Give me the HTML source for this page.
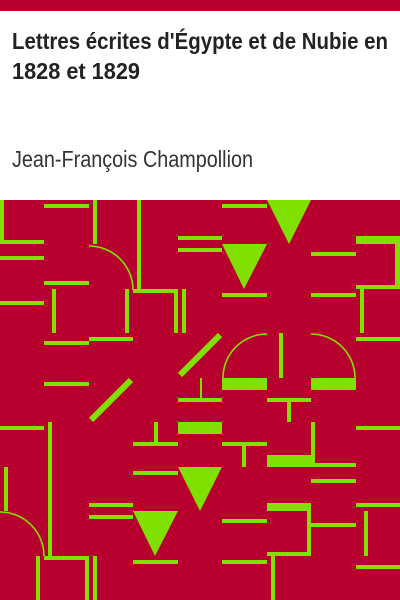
<!DOCTYPE html>
<html><head><meta charset="utf-8"><style>
html,body{margin:0;padding:0;background:#fff;}
svg{display:block;}
</style></head><body>
<svg width="400" height="600" viewBox="0 0 400 600">
<rect x="0" y="0" width="400" height="11" fill="#b8002e"/>
<text x="12" y="49" font-family="Liberation Sans, sans-serif" font-weight="bold" font-size="23" fill="#222" textLength="376" lengthAdjust="spacingAndGlyphs">Lettres écrites d'Égypte et de Nubie en</text>
<text x="12" y="79" font-family="Liberation Sans, sans-serif" font-weight="bold" font-size="23" fill="#222" textLength="128" lengthAdjust="spacingAndGlyphs">1828 et 1829</text>
<text x="12" y="167" font-family="Liberation Sans, sans-serif" font-size="23" fill="#333" textLength="241" lengthAdjust="spacingAndGlyphs">Jean-François Champollion</text>
<g>
<rect x="0" y="200" width="400" height="400" fill="#b8002e"/>
<g fill="#80e000">
<rect x="0" y="200" width="4" height="44"/><rect x="0" y="240" width="44" height="4"/>
<rect x="0" y="256" width="44" height="4"/><rect x="44" y="204" width="45" height="4"/>
<rect x="93" y="200" width="4" height="44"/><rect x="137" y="200" width="4" height="90"/>
<rect x="133" y="289" width="45" height="4"/><rect x="44" y="281" width="45" height="4"/>
<rect x="178" y="236" width="44" height="4"/><rect x="178" y="248" width="44" height="4"/>
<rect x="52" y="289" width="4" height="44"/><rect x="125" y="289" width="4" height="44"/>
<rect x="174" y="289" width="4" height="44"/><rect x="182" y="289" width="4" height="44"/>
<rect x="0" y="301" width="44" height="4"/><rect x="44" y="341" width="45" height="4"/>
<rect x="89" y="337" width="44" height="4"/><rect x="44" y="382" width="45" height="4"/>
<rect x="222" y="204" width="45" height="4"/>
<polygon points="267,200 311,200 289,244"/><polygon points="222,244 267,244 244,289"/>
<rect x="311" y="252" width="45" height="4"/><rect x="222" y="293" width="45" height="4"/><rect x="311" y="293" width="45" height="4"/>
<rect x="356" y="236" width="44" height="8"/><rect x="395" y="244" width="5" height="45"/><rect x="356" y="285" width="44" height="4"/>
<rect x="360" y="289" width="4" height="44"/><rect x="356" y="337" width="44" height="4"/>
<rect x="279" y="333" width="4" height="45"/>
<rect x="222" y="378" width="45" height="12"/><rect x="311" y="378" width="45" height="12"/>
<rect x="200" y="378" width="2" height="22"/>
<rect x="0" y="426" width="44" height="4"/><rect x="48" y="422" width="4" height="135"/>
<rect x="4" y="467" width="4" height="44"/>
<rect x="44" y="556" width="45" height="4"/><rect x="85" y="556" width="4" height="44"/><rect x="93" y="556" width="4" height="44"/><rect x="36" y="556" width="4" height="44"/>
<rect x="89" y="503" width="44" height="4"/><rect x="89" y="515" width="44" height="4"/>
<rect x="133" y="442" width="45" height="4"/><rect x="154" y="422" width="4" height="22"/>
<rect x="133" y="471" width="45" height="4"/>
<polygon points="133,511 178,511 155,556"/><rect x="133" y="560" width="45" height="4"/>
<rect x="178" y="398" width="44" height="4"/><rect x="178" y="422" width="44" height="12"/>
<polygon points="178,467 222,467 200,511"/>
<rect x="222" y="442" width="45" height="4"/><rect x="242" y="446" width="4" height="21"/>
<rect x="267" y="398" width="44" height="4"/><rect x="287" y="402" width="4" height="20"/>
<rect x="267" y="455" width="44" height="12"/><rect x="311" y="422" width="4" height="45"/><rect x="311" y="463" width="45" height="4"/>
<rect x="356" y="426" width="44" height="4"/><rect x="311" y="479" width="45" height="4"/>
<rect x="267" y="503" width="44" height="8"/><rect x="307" y="511" width="4" height="45"/><rect x="267" y="552" width="44" height="4"/><rect x="311" y="523" width="45" height="4"/>
<rect x="271" y="556" width="4" height="44"/>
<rect x="222" y="519" width="45" height="4"/><rect x="222" y="560" width="45" height="4"/>
<rect x="356" y="503" width="44" height="4"/><rect x="364" y="511" width="4" height="45"/><rect x="356" y="565" width="44" height="4"/>
</g>
<g stroke="#80e000" fill="none">
<path d="M89,246 A44,44 0 0 1 133,290" stroke-width="1.6"/>
<path d="M223,378 A44,44 0 0 1 267,334" stroke-width="1.6"/>
<path d="M311,334 A44,44 0 0 1 355,378" stroke-width="1.6"/>
<path d="M0,512 A44,44 0 0 1 44,556" stroke-width="1.6"/>
<line x1="131" y1="380" x2="91" y2="420" stroke-width="6"/>
<line x1="220" y1="335" x2="180" y2="375" stroke-width="6"/>
</g>
</g>
</svg>
</body></html>
